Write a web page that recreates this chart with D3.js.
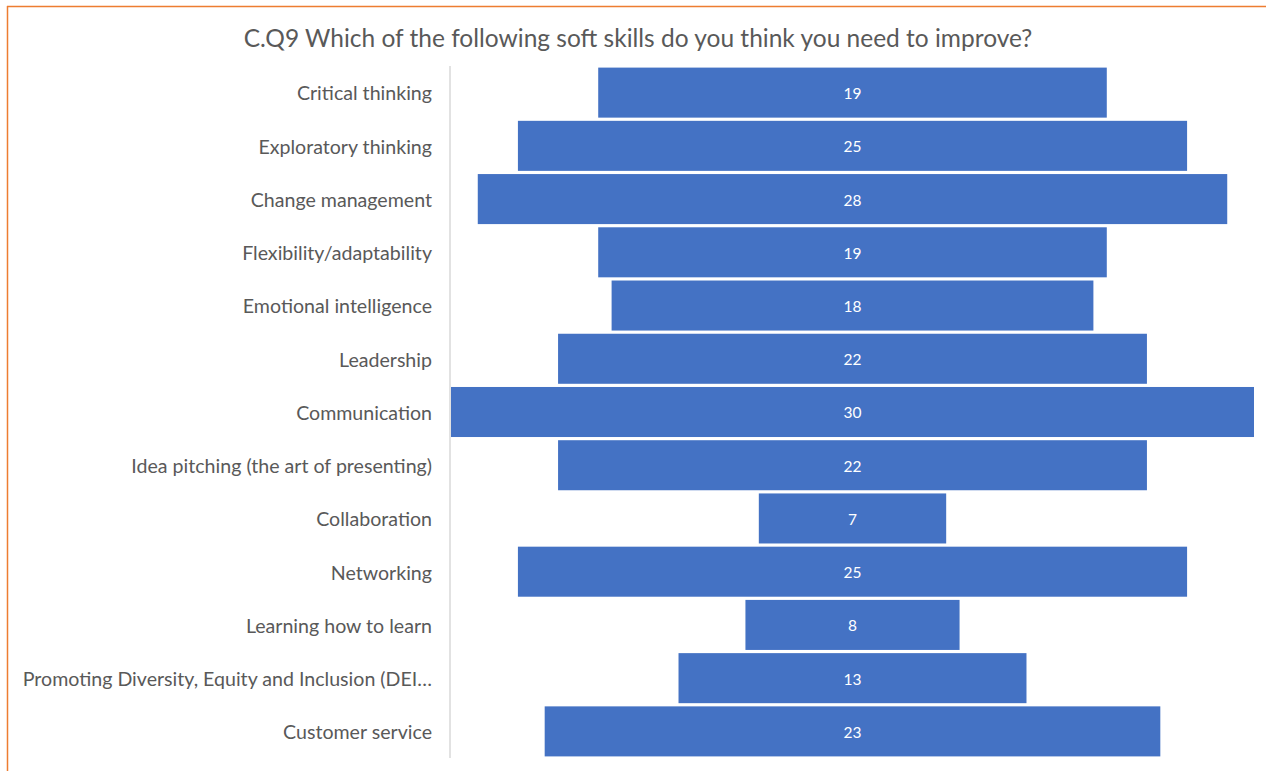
<!DOCTYPE html>
<html>
<head>
<meta charset="utf-8">
<script src="https://cdn.jsdelivr.net/npm/d3@7"></script>
<style>
  body { margin: 0; background: #fff; }
  svg { display: block; }
</style>
</head>
<body>
<div id="chart"></div>
<script>
const title = "C.Q9 Which of the following soft skills do you think you need to improve?";

const skills = [
  "Critical thinking",
  "Exploratory thinking",
  "Change management",
  "Flexibility/adaptability",
  "Emotional intelligence",
  "Leadership",
  "Communication",
  "Idea pitching (the art of presenting)",
  "Collaboration",
  "Networking",
  "Learning how to learn",
  "Promoting Diversity, Equity and Inclusion (DEI…",
  "Customer service"
];

const counts = [19, 25, 28, 19, 18, 22, 30, 22, 7, 25, 8, 13, 23];

const width = 1266, height = 771;
const margin = { top: 66, right: 12, bottom: 13, left: 451 };

const svg = d3.select("#chart")
    .append("svg")
    .attr("width", width)
    .attr("height", height);

// orange frame (top + left edges visible)
svg.append("line")
    .attr("x1", 7).attr("x2", width).attr("y1", 6.5).attr("y2", 6.5)
    .attr("stroke", "#ED7D31").attr("stroke-width", 1.5);
svg.append("line")
    .attr("x1", 7.5).attr("x2", 7.5).attr("y1", 6).attr("y2", height)
    .attr("stroke", "#ED7D31").attr("stroke-width", 1.5);

const maxVal = d3.max(counts);

const x = d3.scaleLinear()
    .domain([-maxVal / 2, maxVal / 2])
    .range([margin.left, width - margin.right]);

const y = d3.scaleBand()
    .domain(skills)
    .range([margin.top, height - margin.bottom])
    .paddingInner(0.06)
    .paddingOuter(0.03);

svg.append("text")
    .attr("x", 638)
    .attr("y", 47)
    .attr("text-anchor", "middle")
    .style("font-family", "Lato, 'Open Sans', sans-serif")
    .style("font-size", "24.5px")
    .style("fill", "#595959")
    .text(title);

// vertical axis line
svg.append("line")
    .attr("x1", margin.left - 1).attr("x2", margin.left - 1)
    .attr("y1", margin.top).attr("y2", height - margin.bottom)
    .attr("stroke", "#D9D9D9").attr("stroke-width", 1.5);

const data = skills.map((s, i) => ({ skill: s, count: counts[i] }));

svg.selectAll(".bar")
    .data(data)
    .enter()
    .append("rect")
    .attr("class", "bar")
    .attr("x", d => x(-d.count / 2))
    .attr("width", d => x(d.count / 2) - x(-d.count / 2))
    .attr("y", d => y(d.skill))
    .attr("height", y.bandwidth())
    .style("fill", "#4472C4");

svg.selectAll(".val")
    .data(data)
    .enter()
    .append("text")
    .attr("class", "val")
    .attr("x", x(0))
    .attr("y", d => y(d.skill) + y.bandwidth() / 2 + 1)
    .attr("dy", ".35em")
    .attr("text-anchor", "middle")
    .style("font-family", "Lato, 'Open Sans', sans-serif")
    .style("font-size", "15.5px")
    .style("fill", "#fff")
    .text(d => d.count);

svg.selectAll(".lbl")
    .data(data)
    .enter()
    .append("text")
    .attr("class", "lbl")
    .attr("x", 432)
    .attr("y", d => y(d.skill) + y.bandwidth() / 2 + 1)
    .attr("dy", ".35em")
    .attr("text-anchor", "end")
    .style("font-family", "Lato, 'Open Sans', sans-serif")
    .style("font-size", "19.6px")
    .style("fill", "#595959")
    .text(d => d.skill);
</script>
</body>
</html>
